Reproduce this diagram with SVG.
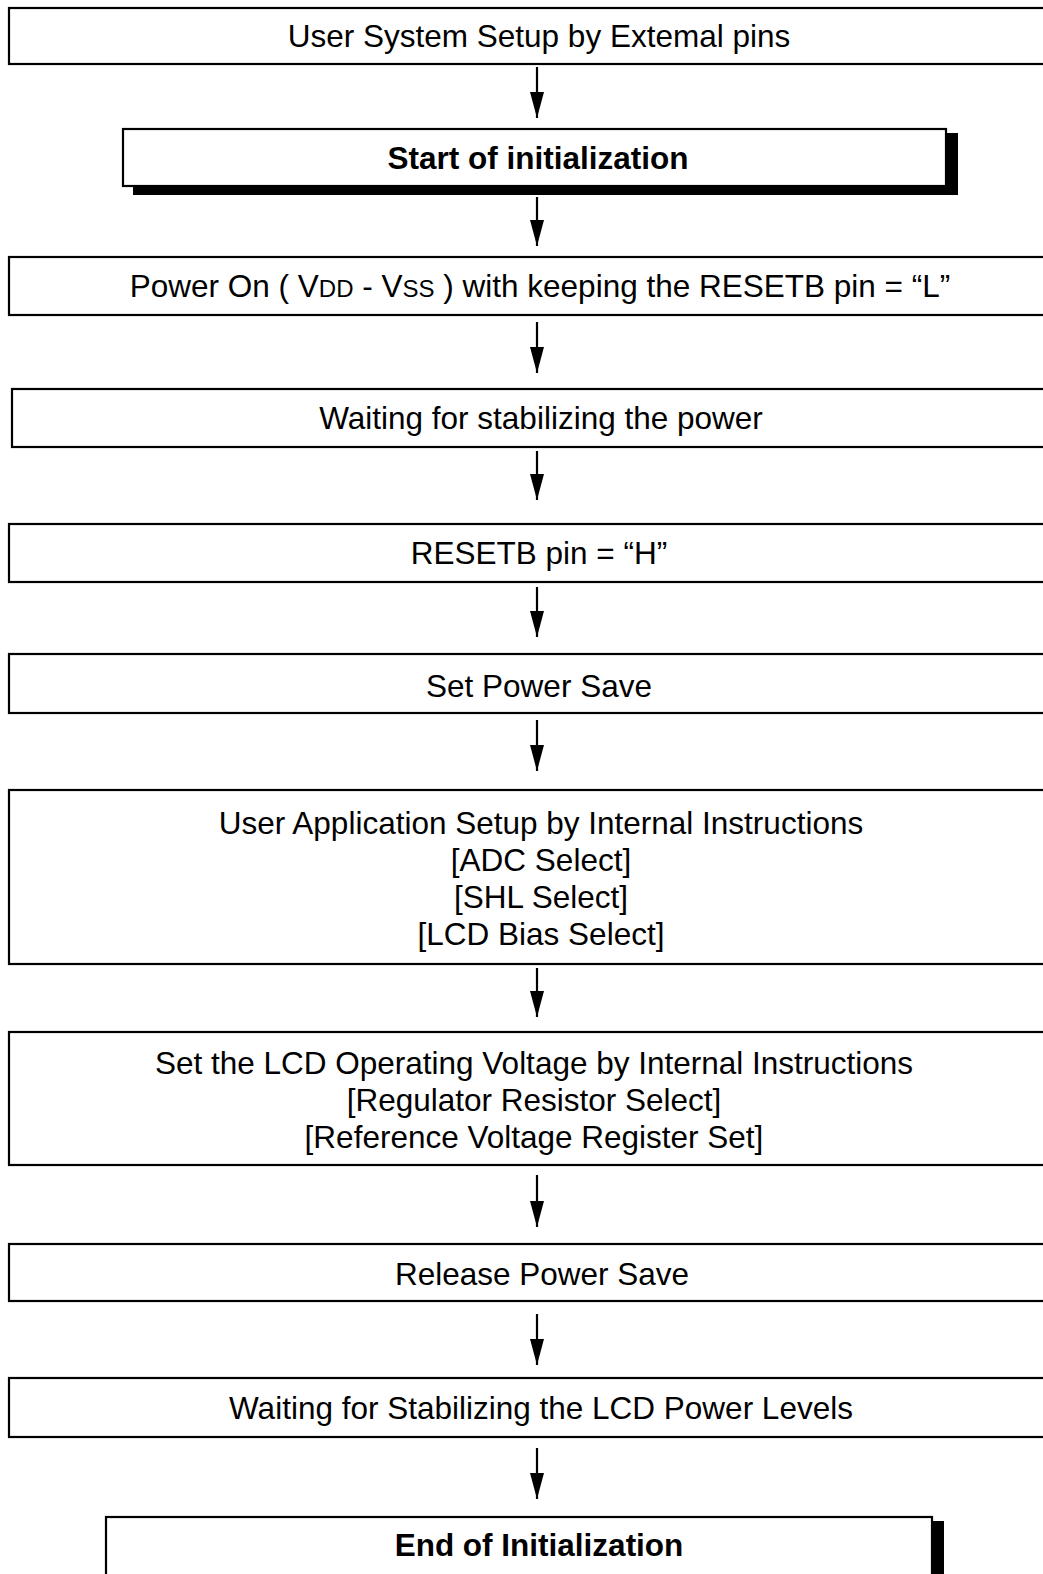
<svg xmlns="http://www.w3.org/2000/svg" width="1043" height="1574" viewBox="0 0 1043 1574">
<style>
.box{fill:#fff;stroke:#000;stroke-width:2.2}
.shadow{fill:#000}
.t{font-family:"Liberation Sans",Arial,sans-serif;font-size:31.5px;fill:#000;text-anchor:middle}
.b{font-weight:bold}
.sub{font-size:24px}
.conn line{stroke:#000;stroke-width:2.2}
</style>
<defs>
<marker id="ah" markerWidth="26" markerHeight="14" refX="26" refY="7" orient="auto" markerUnits="userSpaceOnUse" viewBox="0 0 26 14">
<path d="M0,0 L26,7 L0,14 Z" fill="#000"/>
</marker>
</defs>
<rect width="1043" height="1574" fill="#fff"/>
<g class="conn">
<line x1="537" y1="67" x2="537" y2="118" marker-end="url(#ah)"/>
<line x1="537" y1="197" x2="537" y2="246" marker-end="url(#ah)"/>
<line x1="537" y1="322" x2="537" y2="373" marker-end="url(#ah)"/>
<line x1="537" y1="451" x2="537" y2="500" marker-end="url(#ah)"/>
<line x1="537" y1="587" x2="537" y2="637" marker-end="url(#ah)"/>
<line x1="537" y1="720" x2="537" y2="771" marker-end="url(#ah)"/>
<line x1="537" y1="968" x2="537" y2="1017" marker-end="url(#ah)"/>
<line x1="537" y1="1175" x2="537" y2="1227" marker-end="url(#ah)"/>
<line x1="537" y1="1314" x2="537" y2="1365" marker-end="url(#ah)"/>
<line x1="537" y1="1448" x2="537" y2="1499" marker-end="url(#ah)"/>
</g>
<g id="n1">
<rect class="box" x="9" y="8" width="1050" height="56"/>
<text class="t" x="539" y="47">User System Setup by Extemal pins</text>
</g>
<g id="n2">
<rect class="shadow" x="133" y="133" width="825" height="62"/>
<rect class="box" x="123" y="129" width="823" height="57"/>
<text class="t b" x="538" y="169">Start of initialization</text>
</g>
<g id="n3">
<rect class="box" x="9" y="257" width="1050" height="58"/>
<text class="t" x="540" y="297">Power On ( V<tspan class="sub">DD</tspan> - V<tspan class="sub">SS</tspan> ) with keeping the RESETB pin = “L”</text>
</g>
<g id="n4">
<rect class="box" x="12" y="389" width="1050" height="58"/>
<text class="t" x="541" y="429">Waiting for stabilizing the power</text>
</g>
<g id="n5">
<rect class="box" x="9" y="524" width="1050" height="58"/>
<text class="t" x="539" y="564">RESETB pin = “H”</text>
</g>
<g id="n6">
<rect class="box" x="9" y="654" width="1050" height="59"/>
<text class="t" x="539" y="697">Set Power Save</text>
</g>
<g id="n7">
<rect class="box" x="9" y="790" width="1050" height="174"/>
<text class="t" x="541" y="834">User Application Setup by Internal Instructions</text>
<text class="t" x="541" y="871">[ADC Select]</text>
<text class="t" x="541" y="908">[SHL Select]</text>
<text class="t" x="541" y="945">[LCD Bias Select]</text>
</g>
<g id="n8">
<rect class="box" x="9" y="1032" width="1050" height="133"/>
<text class="t" x="534" y="1074">Set the LCD Operating  Voltage by Internal Instructions</text>
<text class="t" x="534" y="1111">[Regulator Resistor Select]</text>
<text class="t" x="534" y="1148">[Reference Voltage Register Set]</text>
</g>
<g id="n9">
<rect class="box" x="9" y="1244" width="1050" height="57"/>
<text class="t" x="542" y="1285">Release Power Save</text>
</g>
<g id="n10">
<rect class="box" x="9" y="1378" width="1050" height="59"/>
<text class="t" x="541" y="1419">Waiting for Stabilizing the LCD Power Levels</text>
</g>
<g id="n11">
<rect class="shadow" x="116" y="1521" width="828" height="70"/>
<rect class="box" x="106" y="1517" width="826" height="70"/>
<text class="t b" x="539" y="1556">End of Initialization</text>
</g>
</svg>
